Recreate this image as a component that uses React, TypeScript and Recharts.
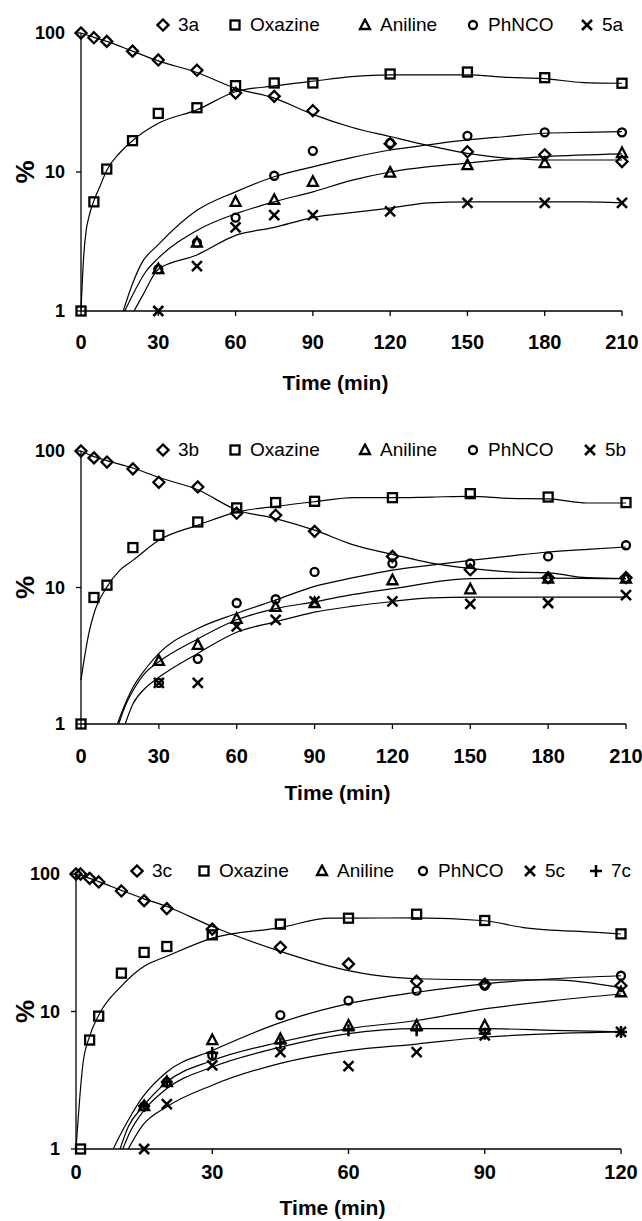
import React from "react";
import { ComposedChart, Line, Scatter, XAxis, YAxis } from "recharts";

const FONT = "'Liberation Sans', Arial, Helvetica, sans-serif";

// ---- panel a ----
const timesA = [0, 5, 10, 20, 30, 45, 60, 75, 90, 120, 150, 180, 210];
const timesA2 = [30, 45, 60, 75, 90, 120, 150, 180, 210];
const a3a = [100, 92.5, 87, 74, 64, 54, 37, 35, 27.6, 16, 14, 13.3, 11.9];
const aOxazine = [1, 6.1, 10.5, 16.8, 26.4, 29, 41.8, 43.7, 43.7, 50.7, 52.4, 47.7, 43.5];
const aAniline = [2, 3.1, 6.1, 6.3, 8.5, 9.9, 11.2, 11.6, 13.7];
const aPhNCO = [2, 3.1, 4.7, 9.4, 14.2, 16.2, 18.2, 19.3, 19.3];
const a5a = [1, 2.1, 4.0, 4.9, 4.9, 5.2, 6.0, 6.0, 6.0];

const fitA3aT = [0, 5, 10, 20, 30, 45, 60, 75, 90, 105, 120, 135, 150, 165, 180, 195, 210];
const fitA3a = [100, 93, 87, 74, 63, 52, 40, 34, 26, 21, 18, 15.5, 13.6, 12.6, 12.2, 12.2, 12.2];
const fitAOxT = [0, 1, 2, 3, 5, 7.5, 10, 15, 20, 30, 45, 60, 75, 90, 105, 120, 135, 150, 165, 180, 195, 210];
const fitAOx = [1, 2.4, 3.8, 4.7, 6.2, 8, 10.3, 13.7, 16.8, 22.4, 28, 37.8, 41.6, 45, 48.5, 50, 50, 50, 48, 47, 44, 43.5];
const fitAPhT = [16.4, 19.6, 23.5, 30, 45, 60, 75, 90, 105, 120, 135, 150, 165, 180, 195, 210];
const fitAPh = [1, 1.5, 2.2, 3.0, 5.3, 7.2, 9.25, 10.9, 12.7, 14.4, 15.7, 17, 18, 19, 19.3, 19.5];
const fitAAnT = [17, 20, 25, 30, 45, 60, 75, 90, 105, 120, 150, 180, 210];
const fitAAn = [1, 1.3, 1.9, 2.4, 3.8, 5.0, 6.1, 7.2, 8.7, 10, 11.6, 12.9, 13.5];
const fitA5aT = [20.6, 24, 30, 45, 60, 75, 90, 105, 120, 135, 150, 165, 180, 195, 210];
const fitA5a = [1, 1.3, 2.0, 2.53, 3.5, 4.0, 4.7, 5.1, 5.5, 6.0, 6.1, 6.1, 6.1, 6.1, 6.0];

// ---- panel b ----
const timesB = [0, 5, 10, 20, 30, 45, 60, 75, 90, 120, 150, 180, 210];
const timesB2 = [30, 45, 60, 75, 90, 120, 150, 180, 210];
const b3b = [100, 89, 83, 74, 59, 54.5, 35, 33.8, 25.8, 16.9, 13.5, 11.8, 11.8];
const bOxazine = [1, 8.45, 10.4, 19.6, 24.1, 30.2, 38.3, 41.9, 42.8, 45.5, 48.7, 46, 41.9];
const bAniline = [2.9, 3.8, 5.9, 7.2, 7.7, 11.3, 9.7, 11.6, 11.6];
const bPhNCO = [2, 3, 7.7, 8.2, 13, 15, 15, 16.9, 20.4];
const b5b = [2, 2, 5.2, 5.8, 7.9, 7.9, 7.6, 7.7, 8.8];

const fitB3bT = [0, 5, 10, 20, 30, 45, 60, 75, 90, 105, 120, 135, 150, 165, 180, 195, 210];
const fitB3b = [100, 91, 85, 75, 64, 52, 37, 32, 26.3, 20.5, 17.5, 15.1, 13.8, 13, 12.8, 11.8, 11.6];
const fitBOxT = [0, 1, 3, 5, 10, 15, 20, 30, 45, 60, 75, 90, 105, 120, 135, 150, 165, 180, 195, 210];
const fitBOx = [2.1, 2.8, 4.6, 6.45, 10.1, 13.4, 15.8, 22.2, 28.6, 35.7, 39.3, 42.5, 45.5, 45.5, 46, 46.5, 45, 44.6, 41.6, 41.6];
const fitBPhT = [14, 17, 20, 25, 30, 45, 60, 75, 90, 105, 120, 135, 150, 165, 180, 195, 210];
const fitBPh = [1, 1.4, 1.85, 2.55, 3.29, 5.0, 6.45, 8.1, 10.2, 11.8, 13.4, 14.6, 15.8, 17, 18.2, 19, 19.8];
const fitBAnT = [14.5, 17, 20, 25, 30, 45, 60, 75, 90, 105, 120, 150, 180, 210];
const fitBAn = [1, 1.35, 1.75, 2.4, 2.86, 4.2, 5.8, 7.0, 7.85, 8.9, 9.8, 11.6, 11.7, 11.6];
const fitB5bT = [17, 20, 25, 30, 45, 60, 75, 90, 105, 120, 135, 150, 180, 210];
const fitB5b = [1, 1.4, 1.85, 2.2, 3.29, 4.7, 5.6, 6.6, 7.3, 7.9, 8.4, 8.5, 8.5, 8.5];

// ---- panel c ----
const timesC = [0, 1, 3, 5, 10, 15, 20, 30, 45, 60, 75, 90, 120];
const timesCOx = [1, 3, 5, 10, 15, 20, 30, 45, 60, 75, 90, 120];
const timesC2 = [15, 20, 30, 45, 60, 75, 90, 120];
const c3c = [100, 100, 93, 87.5, 75.3, 64, 56, 39.7, 29.3, 22.2, 16.6, 15.8, 15.4];
const cOxazine = [1, 6.2, 9.25, 19, 26.9, 29.7, 36.1, 43.2, 47.7, 51, 45.9, 36.7];
const cAniline = [2.05, 3.07, 6.2, 6.3, 7.9, 7.9, 7.9, 13.8];
const cPhNCO = [2.05, 3.07, 4.8, 9.4, 12.0, 14.2, 15.4, 18.2];
const c5c = [1, 2.12, 4.06, 5.07, 4.0, 5.07, 6.7, 7.1];
const c7c = [2.05, 3.07, 5.0, 5.86, 7.3, 7.3, 6.9, 7.1];

const fitC3cT = [0, 1, 3, 5, 10, 15, 20, 30, 45, 56, 60, 70, 75, 90, 105, 120];
const fitC3c = [100, 99, 93, 88, 76, 66, 58, 41.5, 27.4, 21.3, 19.8, 17.7, 17.3, 17.0, 17, 14.9];
const fitCOxT = [0, 1.5, 3, 5, 10, 15, 20, 30, 45, 56, 60, 75, 90, 98.5, 114.7, 120];
const fitCOx = [1, 4.1, 6.6, 9.4, 15.3, 21.3, 25.2, 34.2, 40.8, 47.8, 47.7, 48, 45.7, 40.8, 37.6, 36.6];
const fitCPhT = [8.2, 9.7, 11.5, 14.7, 20, 30, 45, 60, 75, 90, 105, 120];
const fitCPh = [1, 1.26, 1.62, 2.39, 3.63, 5.2, 8.3, 11.4, 13.8, 15.9, 17.3, 18.2];
const fitCAnT = [9.7, 11.5, 14.7, 20, 30, 45, 60, 75, 90, 105, 120];
const fitCAn = [1, 1.45, 2.03, 3.07, 4.4, 6.0, 7.5, 8.6, 10.45, 12, 13.4];
const fitC7cT = [10.3, 12, 14.7, 20, 30, 45, 60, 75, 90, 105, 120];
const fitC7c = [1, 1.35, 1.86, 2.75, 3.95, 5.5, 6.9, 7.5, 7.5, 7.3, 7.1];
const fitC5cT = [11.5, 14.7, 20, 30, 45, 60, 75, 90, 105, 120];
const fitC5c = [1, 1.49, 2.03, 2.91, 4.2, 5.2, 5.8, 6.5, 6.9, 7.1];

type Pt = { t: number; v: number };
const pts = (t: number[], v: number[]): Pt[] => t.map((x, i) => ({ t: x, v: v[i] }));

function Marker({ kind, cx, cy }: { kind: string; cx: number; cy: number }) {
  const s = { fill: "none", stroke: "#000", strokeWidth: 2.3 };
  if (kind === "diamond")
    return <polygon {...s} points={`${cx},${cy - 5.5} ${cx + 5.5},${cy} ${cx},${cy + 5.5} ${cx - 5.5},${cy}`} />;
  if (kind === "square") return <rect {...s} x={cx - 4.5} y={cy - 4.5} width={9} height={9} />;
  if (kind === "triangle")
    return <polygon {...s} points={`${cx},${cy - 5.5} ${cx + 5},${cy + 4} ${cx - 5},${cy + 4}`} />;
  if (kind === "circle") return <circle {...s} cx={cx} cy={cy} r={4} />;
  if (kind === "cross")
    return (
      <g stroke="#000" strokeWidth={2.5}>
        <line x1={cx - 5} y1={cy - 5} x2={cx + 5} y2={cy + 5} />
        <line x1={cx - 5} y1={cy + 5} x2={cx + 5} y2={cy - 5} />
      </g>
    );
  return (
    <g stroke="#000" strokeWidth={2.5}>
      <line x1={cx - 6} y1={cy} x2={cx + 6} y2={cy} />
      <line x1={cx} y1={cy - 6} x2={cx} y2={cy + 6} />
    </g>
  );
}

const PctLabel = (props: any) => {
  const vb = props.viewBox || { y: 0, height: 0 };
  const cy = vb.y + vb.height / 2;
  return (
    <text x={25} y={cy} transform={`rotate(-90 25 ${cy})`} textAnchor="middle" dominantBaseline="central"
      fontSize={26} fontWeight="bold" fontFamily={FONT} fill="#000">%</text>
  );
};

const TimeLabel = (props: any) => {
  const vb = props.viewBox || { x: 0, y: 0, width: 0, height: 0 };
  return (
    <text x={vb.x + vb.width / 2 - 16} y={vb.y + vb.height - props.off} textAnchor="middle"
      fontSize={21} fontWeight="bold" fontFamily={FONT} fill="#000">Time (min)</text>
  );
};

type Series = { kind: string; data: Pt[] };
type LegendItem = { kind: string; label: string; left: number };

function Panel(p: {
  top: number; height: number; mTop: number; mRight: number; yWidth: number; xHeight: number;
  xMax: number; xTicks: number[]; tickGap: number; labelOff: number;
  markers: Series[]; fits: Pt[][]; legend: LegendItem[]; legendY: number;
}) {
  return (
    <div style={{ position: "absolute", left: 0, top: p.top, width: 642, height: p.height }}>
      <ComposedChart width={642} height={p.height} margin={{ top: p.mTop, right: p.mRight, bottom: 0, left: 0 }}>
        <XAxis type="number" dataKey="t" domain={[0, p.xMax]} ticks={p.xTicks}
          height={p.xHeight} tickSize={5} tickMargin={p.tickGap}
          axisLine={{ stroke: "#000", strokeWidth: 1.3 }} tickLine={{ stroke: "#000", strokeWidth: 1.3 }}
          tick={{ fill: "#000", fontSize: 20, fontWeight: "bold", fontFamily: FONT }}
          label={<TimeLabel off={p.labelOff} />} />
        <YAxis type="number" dataKey="v" scale="log" domain={[1, 100]} ticks={[1, 10, 100]}
          width={p.yWidth} tickSize={5} tickMargin={11}
          axisLine={{ stroke: "#000", strokeWidth: 1.3 }} tickLine={{ stroke: "#000", strokeWidth: 1.3 }}
          tick={{ fill: "#000", fontSize: 18, fontWeight: "bold", fontFamily: FONT }}
          label={<PctLabel />} />
        {p.fits.map((d, i) => (
          <Line key={"fit" + i} data={d} dataKey="v" type="monotone" dot={false} activeDot={false}
            stroke="#000" strokeWidth={1.2} isAnimationActive={false} />
        ))}
        {p.markers.map((m) => (
          <Scatter key={m.kind} data={m.data} dataKey="v" isAnimationActive={false}
            shape={(sp: any) => <Marker kind={m.kind} cx={sp.cx} cy={sp.cy} />} />
        ))}
      </ComposedChart>
      {p.legend.map((it) => (
        <div key={it.label} style={{ position: "absolute", left: it.left, top: p.legendY - 12, height: 24,
          display: "flex", alignItems: "center", fontFamily: FONT, fontSize: 19, color: "#000", whiteSpace: "nowrap" }}>
          <svg width={14} height={14}><Marker kind={it.kind} cx={7} cy={7} /></svg>
          <span style={{ marginLeft: 8 }}>{it.label}</span>
        </div>
      ))}
    </div>
  );
}

export default function App() {
  const ticks210 = [0, 30, 60, 90, 120, 150, 180, 210];
  return (
    <div style={{ position: "absolute", left: 0, top: 0, width: 642, height: 1221, background: "#fff" }}>
      <Panel top={0} height={410} mTop={33} mRight={20} yWidth={81} xHeight={99} xMax={210} xTicks={ticks210}
        tickGap={19} labelOff={20} legendY={25}
        fits={[pts(fitA3aT, fitA3a), pts(fitAOxT, fitAOx), pts(fitAPhT, fitAPh), pts(fitAAnT, fitAAn), pts(fitA5aT, fitA5a)]}
        markers={[
          { kind: "diamond", data: pts(timesA, a3a) },
          { kind: "square", data: pts(timesA, aOxazine) },
          { kind: "triangle", data: pts(timesA2, aAniline) },
          { kind: "circle", data: pts(timesA2, aPhNCO) },
          { kind: "cross", data: pts(timesA2, a5a) },
        ]}
        legend={[
          { kind: "diamond", label: "3a", left: 156 },
          { kind: "square", label: "Oxazine", left: 228 },
          { kind: "triangle", label: "Aniline", left: 358 },
          { kind: "circle", label: "PhNCO", left: 466 },
          { kind: "cross", label: "5a", left: 580 },
        ]} />
      <Panel top={410} height={410} mTop={41} mRight={16} yWidth={81} xHeight={96} xMax={210} xTicks={ticks210}
        tickGap={20} labelOff={20} legendY={40}
        fits={[pts(fitB3bT, fitB3b), pts(fitBOxT, fitBOx), pts(fitBPhT, fitBPh), pts(fitBAnT, fitBAn), pts(fitB5bT, fitB5b)]}
        markers={[
          { kind: "diamond", data: pts(timesB, b3b) },
          { kind: "square", data: pts(timesB, bOxazine) },
          { kind: "triangle", data: pts(timesB2, bAniline) },
          { kind: "circle", data: pts(timesB2, bPhNCO) },
          { kind: "cross", data: pts(timesB2, b5b) },
        ]}
        legend={[
          { kind: "diamond", label: "3b", left: 156 },
          { kind: "square", label: "Oxazine", left: 228 },
          { kind: "triangle", label: "Aniline", left: 358 },
          { kind: "circle", label: "PhNCO", left: 466 },
          { kind: "cross", label: "5b", left: 583 },
        ]} />
      <Panel top={820} height={401} mTop={54} mRight={21} yWidth={76} xHeight={72} xMax={120} xTicks={[0, 30, 60, 90, 120]}
        tickGap={11} labelOff={6} legendY={51}
        fits={[pts(fitC3cT, fitC3c), pts(fitCOxT, fitCOx), pts(fitCPhT, fitCPh), pts(fitCAnT, fitCAn), pts(fitC7cT, fitC7c), pts(fitC5cT, fitC5c)]}
        markers={[
          { kind: "diamond", data: pts(timesC, c3c) },
          { kind: "square", data: pts(timesCOx, cOxazine) },
          { kind: "triangle", data: pts(timesC2, cAniline) },
          { kind: "circle", data: pts(timesC2, cPhNCO) },
          { kind: "cross", data: pts(timesC2, c5c) },
          { kind: "plus", data: pts(timesC2, c7c) },
        ]}
        legend={[
          { kind: "diamond", label: "3c", left: 130 },
          { kind: "square", label: "Oxazine", left: 197 },
          { kind: "triangle", label: "Aniline", left: 315 },
          { kind: "circle", label: "PhNCO", left: 416 },
          { kind: "cross", label: "5c", left: 523 },
          { kind: "plus", label: "7c", left: 589 },
        ]} />
    </div>
  );
}
